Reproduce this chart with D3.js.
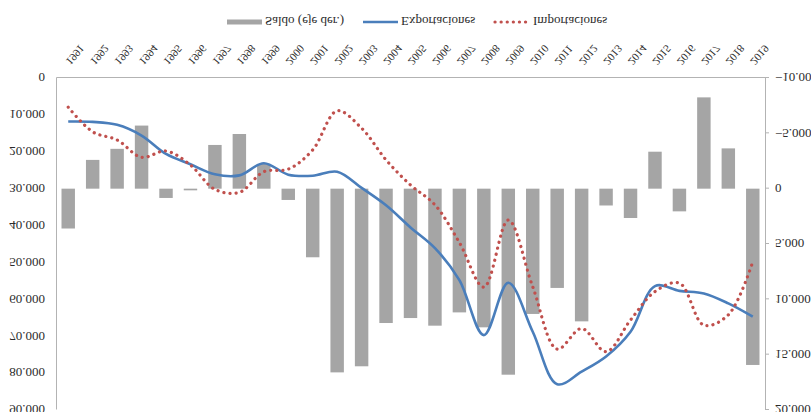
<!DOCTYPE html>
<html>
<head>
<meta charset="utf-8">
<script src="https://cdn.jsdelivr.net/npm/d3@7"></script>
<style>
  body { margin: 0; background: #fff; }
  svg { display: block; }
  text { font-family: "Liberation Serif", "Times New Roman", serif; fill: #2b2b2b; }
</style>
</head>
<body>
<svg id="chart" width="811" height="412"></svg>
<script>
// Years on the category axis
const years = ["1991","1992","1993","1994","1995","1996","1997","1998","1999","2000",
  "2001","2002","2003","2004","2005","2006","2007","2008","2009","2010",
  "2011","2012","2013","2014","2015","2016","2017","2018","2019"];

// Trade balance (right axis)
const saldo = [3600, -2600, -3600, -5700, 840, 150, -3950, -4940, -2230, 1020,
  6200, 16600, 16050, 12140, 11690, 12380, 11180, 12530, 16810, 11320,
  8970, 11990, 1520, 2650, -3340, 2050, -8250, -3640, 15930];

// Exports (left axis)
const exportaciones = [11800, 11900, 12700, 15600, 20600, 23400, 26100, 26400, 23100, 26200,
  26500, 25400, 29800, 34500, 40500, 46100, 54800, 69700, 55500, 68800,
  83000, 79600, 75500, 68800, 56400, 57700, 58400, 61100, 64700];

// Imports (left axis)
const importaciones = [7900, 14600, 16800, 21500, 19800, 23600, 30200, 31000, 25400, 24700,
  19500, 8900, 13600, 22200, 29000, 34400, 44600, 56700, 38500, 56600,
  73500, 67900, 74200, 65600, 57900, 55600, 67000, 64200, 49800];

const leftTicks = [0, 10000, 20000, 30000, 40000, 50000, 60000, 70000, 80000, 90000];
const rightTicks = [-10000, -5000, 0, 5000, 10000, 15000, 20000];

const legendLabels = ["Saldo (eje der.)", "Exportaciones", "Importaciones"];

const W = 811, H = 412;
const colors = { bar: "#a5a5a5", exp: "#4a7ebb", imp: "#c0504d", axis: "#b3b3b3" };

const loc = d3.formatLocale({ decimal: ",", thousands: ".", grouping: [3], currency: ["", ""] });
const fmt = loc.format(",d");

const svg = d3.select("#chart");
// Whole chart is laid out normally and then mirrored top-to-bottom
const root = svg.append("g").attr("transform", `translate(0,${H}) scale(1,-1)`);

const plot = { left: 56, right: 765, top: 2, bottom: 334 };

const x = d3.scaleBand().domain(years).range([plot.left, plot.right])
  .paddingInner(0.45).paddingOuter(0.225);
const cx = d => x(d) + x.bandwidth() / 2;
const yL = d3.scaleLinear().domain([0, 90000]).range([plot.bottom, plot.top]);
const yR = d3.scaleLinear().domain([-10000, 20000]).range([plot.bottom, plot.top]);

// Bars: balance against the right axis
root.append("g").selectAll("rect").data(years).join("rect")
  .attr("x", d => x(d))
  .attr("width", x.bandwidth())
  .attr("y", (d, i) => Math.min(yR(saldo[i]), yR(0)))
  .attr("height", (d, i) => Math.abs(yR(saldo[i]) - yR(0)))
  .attr("fill", colors.bar);

// Smoothed lines
const line = vals => d3.line()
  .x((d, i) => cx(years[i]))
  .y(d => yL(d))
  .curve(d3.curveCatmullRom.alpha(0.5))(vals);

root.append("path").attr("d", line(exportaciones))
  .attr("fill", "none").attr("stroke", colors.exp).attr("stroke-width", 2.6);

root.append("path").attr("d", line(importaciones))
  .attr("fill", "none").attr("stroke", colors.imp).attr("stroke-width", 3.2)
  .attr("stroke-dasharray", "0.1 6").attr("stroke-linecap", "round");

// Left axis
const gL = root.append("g").attr("transform", `translate(${plot.left},0)`)
  .call(d3.axisLeft(yL).tickValues(leftTicks).tickFormat(fmt).tickSize(0).tickPadding(11));
gL.select(".domain").attr("stroke", colors.axis);
gL.selectAll("text").attr("font-size", 13);

// Right axis
const gR = root.append("g").attr("transform", `translate(${plot.right},0)`)
  .call(d3.axisRight(yR).tickValues(rightTicks).tickFormat(fmt).tickSizeInner(4).tickSizeOuter(0).tickPadding(6));
gR.select(".domain").attr("stroke", colors.axis);
gR.selectAll("line").attr("stroke", colors.axis);
gR.selectAll("text").attr("font-size", 13);

// Category axis line
const gB = root.append("g").attr("transform", `translate(0,${plot.bottom})`)
  .call(d3.axisBottom(x).tickSize(0).tickSizeOuter(0).tickFormat(""));
gB.select(".domain").attr("stroke", colors.axis);

[gL, gR, gB].forEach(g => g.attr("font-family", null));

// Slanted year labels
root.append("g").selectAll("text").data(years).join("text")
  .attr("text-anchor", "start")
  .attr("font-size", 11)
  .attr("transform", d => `translate(${cx(d) - 3},${plot.bottom + 17}) rotate(50)`)
  .text(d => d);

// Legend
const lg = root.append("g").attr("transform", "translate(0,390)");
lg.append("rect").attr("x", 227).attr("y", -2.5).attr("width", 35).attr("height", 5).attr("fill", colors.bar);
lg.append("text").attr("x", 265).attr("y", 0).attr("dy", "0.35em").attr("font-size", 13).text(legendLabels[0]);
lg.append("line").attr("x1", 363).attr("x2", 398).attr("y1", 0).attr("y2", 0)
  .attr("stroke", colors.exp).attr("stroke-width", 2.6);
lg.append("text").attr("x", 401).attr("y", 0).attr("dy", "0.35em").attr("font-size", 13).text(legendLabels[1]);
lg.append("line").attr("x1", 495).attr("x2", 530).attr("y1", 0).attr("y2", 0)
  .attr("stroke", colors.imp).attr("stroke-width", 3.2)
  .attr("stroke-dasharray", "0.1 6").attr("stroke-linecap", "round");
lg.append("text").attr("x", 533).attr("y", 0).attr("dy", "0.35em").attr("font-size", 13).text(legendLabels[2]);
</script>
</body>
</html>
